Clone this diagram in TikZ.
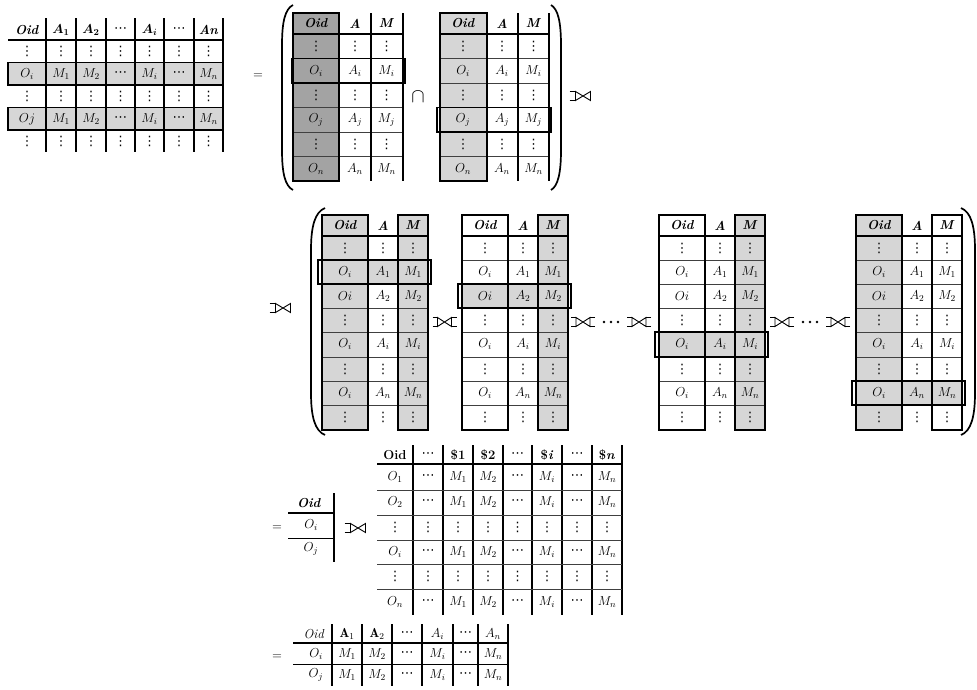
\RequirePackage{fix-cm}
\documentclass[tikz,border=0pt]{standalone}
\usepackage{amsmath}
\usepackage{fontspec}
\newfontfamily\dvs{DejaVu Sans}
\newcommand\hb[1]{\textbf{\textit{#1}}}
\newcommand\vdt{{\dvs ⋮}}
\newcommand\cdt{{\dvs ⋯}}
\newcommand\cel[4]{\node[cellbox] (#1) at (#2,#3) {#4};}
% T1 rows: #1 row, #2 y, #3 first cell
\newcommand\onerow[3]{\cel{T1-#1-1}{27}{#2}{#3}\cel{T1-#1-2}{61}{#2}{$M_1$}\cel{T1-#1-3}{91}{#2}{$M_2$}\cel{T1-#1-4}{120.5}{#2}{\cdt}\cel{T1-#1-5}{149.5}{#2}{$M_i$}\cel{T1-#1-6}{179}{#2}{\cdt}\cel{T1-#1-7}{208.5}{#2}{$M_n$}}
\newcommand\onedots[2]{\cel{T1-#1-1}{27}{#2}{\vdt}\cel{T1-#1-2}{61}{#2}{\vdt}\cel{T1-#1-3}{91}{#2}{\vdt}\cel{T1-#1-4}{120.5}{#2}{\vdt}\cel{T1-#1-5}{149.5}{#2}{\vdt}\cel{T1-#1-6}{179}{#2}{\vdt}\cel{T1-#1-7}{208.5}{#2}{\vdt}}
% tables A/B
\newcommand\abrow[4]{\cel{T#1-#2-1}{23}{#3}{$O_#4$}\cel{T#1-#2-2}{62}{#3}{$A_#4$}\cel{T#1-#2-3}{93.5}{#3}{$M_#4$}}
\newcommand\abdots[3]{\cel{T#1-#2-1}{23}{#3}{\vdt}\cel{T#1-#2-2}{62}{#3}{\vdt}\cel{T#1-#2-3}{93.5}{#3}{\vdt}}
\newcommand\abtab[1]{%
  \cel{T#1-0-1}{23}{23.5}{\hb{Oid}}\cel{T#1-0-2}{62}{23.5}{\hb{A}}\cel{T#1-0-3}{93.5}{23.5}{\hb{M}}%
  \abdots{#1}{1}{46}\abrow{#1}{2}{71}{i}\abdots{#1}{3}{95}\abrow{#1}{4}{120}{j}%
  \abdots{#1}{5}{144}\abrow{#1}{6}{169}{n}}
% C tables
\newcommand\crow[5]{\cel{C#1-#2-1}{23}{#3}{#4}\cel{C#1-#2-2}{61}{#3}{$A_#5$}\cel{C#1-#2-3}{91}{#3}{$M_#5$}}
\newcommand\cdotsrow[3]{\cel{C#1-#2-1}{23}{#3}{\vdt}\cel{C#1-#2-2}{61}{#3}{\vdt}\cel{C#1-#2-3}{91}{#3}{\vdt}}
\newcommand\ctab[1]{%
  \cel{C#1-0-1}{23}{225.5}{\hb{Oid}}\cel{C#1-0-2}{61}{225.5}{\hb{A}}\cel{C#1-0-3}{91}{225.5}{\hb{M}}%
  \cdotsrow{#1}{1}{248}\crow{#1}{2}{272}{$O_i$}{1}\crow{#1}{3}{296}{$Oi$}{2}%
  \cdotsrow{#1}{4}{320}\crow{#1}{5}{344.5}{$O_i$}{i}\cdotsrow{#1}{6}{369}%
  \crow{#1}{7}{393}{$O_i$}{n}\cdotsrow{#1}{8}{417.5}}
% T5 rows
\newcommand\fiverow[3]{\cel{T5-#1-1}{395}{#2}{#3}\cel{T5-#1-2}{428}{#2}{\cdt}\cel{T5-#1-3}{458}{#2}{$M_1$}\cel{T5-#1-4}{488}{#2}{$M_2$}\cel{T5-#1-5}{517.5}{#2}{\cdt}\cel{T5-#1-6}{547}{#2}{$M_i$}\cel{T5-#1-7}{577}{#2}{\cdt}\cel{T5-#1-8}{607}{#2}{$M_n$}}
\newcommand\fivedots[2]{\cel{T5-#1-1}{395}{#2}{\vdt}\cel{T5-#1-2}{428}{#2}{\vdt}\cel{T5-#1-3}{458}{#2}{\vdt}\cel{T5-#1-4}{488}{#2}{\vdt}\cel{T5-#1-5}{517.5}{#2}{\vdt}\cel{T5-#1-6}{547}{#2}{\vdt}\cel{T5-#1-7}{577}{#2}{\vdt}\cel{T5-#1-8}{607}{#2}{\vdt}}
% final rows
\newcommand\finrow[3]{\cel{F-#1-1}{316}{#2}{#3}\cel{F-#1-2}{347}{#2}{$M_1$}\cel{F-#1-3}{377}{#2}{$M_2$}\cel{F-#1-4}{407}{#2}{\cdt}\cel{F-#1-5}{437.5}{#2}{$M_i$}\cel{F-#1-6}{465.5}{#2}{\cdt}\cel{F-#1-7}{493}{#2}{$M_n$}}
\tikzset{
  cellbox/.style={inner sep=0pt, font=\fontsize{13}{15}\selectfont},
  vl/.style={line width=1.1pt},
  hl/.style={line width=1.8pt},
  rl/.style={line width=0.5pt, black!75},
  rowbox/.style={line width=1.5pt},
  lsh/.style={fill=black!16},
  dsh/.style={fill=black!36},
  jn/.style={line width=0.9pt},
  parenline/.style={line width=1.7pt},
  pics/lojoin/.style={code={
    \draw[jn] (-7.5,-4.5) -- (7.5,4.5) -- (7.5,-4.5) -- (-7.5,4.5) -- cycle;
    \draw[jn] (-13.5,-4.5) -- (-7.5,-4.5) (-13.5,4.5) -- (-7.5,4.5);}},
  pics/fojoin/.style={code={
    \draw[jn] (-7,-4.5) -- (7,4.5) -- (7,-4.5) -- (-7,4.5) -- cycle;
    \draw[jn] (-12,-4.5) -- (-7,-4.5) (-12,4.5) -- (-7,4.5)
              (12,-4.5) -- (7,-4.5) (12,4.5) -- (7,4.5);}},
}
\begin{document}
\begin{tikzpicture}[x=1pt,y=-1pt]
\fill[white] (0,0) rectangle (977,689);
\useasboundingbox (0,0) rectangle (977,689);

% ---------------- T1 (top left) ----------------
\fill[lsh] (8,62.5) rectangle (223,85);
\fill[lsh] (8,107.5) rectangle (223,130);
\draw[vl] (46,18) -- (46,152) (76,18) -- (76,152) (106,18) -- (106,152) (135,18) -- (135,152) (164,18) -- (164,152) (194,18) -- (194,152) (223,18) -- (223,152);
\draw[hl] (8,40) -- (223,40);
\draw[rowbox] (8,62.5) rectangle (223,85);
\draw[rowbox] (8,107.5) rectangle (223,130);
\cel{T1-0-1}{27}{30}{\hb{Oid}}
\cel{T1-0-2}{61}{30}{$\boldsymbol{A_1}$}
\cel{T1-0-3}{91}{30}{$\boldsymbol{A_2}$}
\cel{T1-0-4}{120.5}{30}{\cdt}
\cel{T1-0-5}{149.5}{30}{$\boldsymbol{A_i}$}
\cel{T1-0-6}{179}{30}{\cdt}
\cel{T1-0-7}{208.5}{30}{\hb{An}}
\onedots{1}{51.5}
\onerow{2}{74}{$O_i$}
\onedots{3}{96.5}
\onerow{4}{119}{$Oj$}
\onedots{5}{141}
\node[cellbox] (eq1) at (258,76) {$=$};

% ---------------- group 1 ----------------
\draw[parenline] (293,5) .. controls (285,9) and (282,22) .. (282,45) -- (282,150) .. controls (282,173) and (285,186) .. (293,190);
\draw[parenline] (551,5) .. controls (558,9) and (561,22) .. (561,45) -- (561,150) .. controls (561,173) and (558,186) .. (551,190);

% table A
\fill[dsh] (293,13) rectangle (339,181);
\draw[rl] (293,58.5) -- (403,58.5) (293,83) -- (403,83) (293,107.5) -- (403,107.5) (293,132) -- (403,132) (293,156.5) -- (403,156.5);
\draw[vl] (371,13) -- (371,181) (403,13) -- (403,181);
\draw[hl] (293,34) -- (403,34);
\draw[rowbox] (293,13) rectangle (339,181);
\draw[rowbox] (292,58.5) rectangle (405,83);
% table B
\fill[lsh] (440,13) rectangle (487,181);
\draw[rl] (440,58.5) -- (549,58.5) (440,83) -- (549,83) (440,107.5) -- (549,107.5) (440,132) -- (549,132) (440,156.5) -- (549,156.5);
\draw[vl] (518,13) -- (518,181) (549,13) -- (549,181);
\draw[hl] (440,34) -- (549,34);
\draw[rowbox] (440,13) rectangle (487,181);
\draw[rowbox] (437,107.5) rectangle (551,132);

\begin{scope}[shift={(293,0)}] \abtab{A} \end{scope}
\begin{scope}[shift={(440,0)}] \abtab{B} \end{scope}

\node[cellbox, font=\fontsize{20}{22}\selectfont] (cap) at (418,97) {$\cap$};
\pic (j1) at (583,96) {lojoin};

% ---------------- middle row ----------------
\pic (j2) at (283,308) {lojoin};
\draw[parenline] (325,208) .. controls (315,212) and (311,226) .. (311,250) -- (311,393) .. controls (311,417) and (315,431) .. (325,435);
\draw[parenline] (961,208) .. controls (971,212) and (975,226) .. (975,250) -- (975,393) .. controls (975,417) and (971,431) .. (961,435);

% C1
\begin{scope}[shift={(322,0)}]
  \fill[lsh] (0,215) rectangle (46,430) (76,215) rectangle (106,430) (0,260) rectangle (106,284);
  \draw[rl] (0,260) -- (106,260) (0,284) -- (106,284) (0,308) -- (106,308) (0,332) -- (106,332) (0,357) -- (106,357) (0,381) -- (106,381) (0,405) -- (106,405);
  \draw[hl] (0,236) -- (106,236);
  \draw[rowbox] (0,215) rectangle (46,430) (76,215) rectangle (106,430);
  \draw[rowbox] (-4,260) rectangle (109,284);
  \ctab{1}
\end{scope}
% C2
\begin{scope}[shift={(462,0)}]
  \fill[lsh] (76,215) rectangle (106,430) (0,284) rectangle (106,308);
  \draw[rl] (0,260) -- (106,260) (0,284) -- (106,284) (0,308) -- (106,308) (0,332) -- (106,332) (0,357) -- (106,357) (0,381) -- (106,381) (0,405) -- (106,405);
  \draw[hl] (0,236) -- (106,236);
  \draw[rowbox] (0,215) rectangle (46,430) (76,215) rectangle (106,430);
  \draw[rowbox] (-4,284) rectangle (109,308);
  \ctab{2}
\end{scope}
% C3
\begin{scope}[shift={(659,0)}]
  \fill[lsh] (76,215) rectangle (106,430) (0,332) rectangle (106,357);
  \draw[rl] (0,260) -- (106,260) (0,284) -- (106,284) (0,308) -- (106,308) (0,332) -- (106,332) (0,357) -- (106,357) (0,381) -- (106,381) (0,405) -- (106,405);
  \draw[hl] (0,236) -- (106,236);
  \draw[rowbox] (0,215) rectangle (46,430) (76,215) rectangle (106,430);
  \draw[rowbox] (-4,332) rectangle (109,357);
  \ctab{3}
\end{scope}
% C4
\begin{scope}[shift={(856,0)}]
  \fill[lsh] (0,215) rectangle (46,430) (0,381) rectangle (106,405);
  \draw[rl] (0,260) -- (106,260) (0,284) -- (106,284) (0,308) -- (106,308) (0,332) -- (106,332) (0,357) -- (106,357) (0,381) -- (106,381) (0,405) -- (106,405);
  \draw[hl] (0,236) -- (106,236);
  \draw[rowbox] (0,215) rectangle (46,430) (76,215) rectangle (106,430);
  \draw[rowbox] (-4,381) rectangle (109,405);
  \ctab{4}
\end{scope}

\pic (j3) at (444.5,322) {fojoin};
\pic (j4) at (583,322) {fojoin};
\fill (604,322) circle (1.3) (611,322) circle (1.3) (618,322) circle (1.3);
\pic (j5) at (639,322) {fojoin};
\pic (j6) at (782,322) {fojoin};
\fill (803,322) circle (1.3) (810,322) circle (1.3) (817,322) circle (1.3);
\pic (j7) at (838,322) {fojoin};

% ---------------- third row ----------------
\node[cellbox] (eq2) at (277,528) {$=$};
\draw[hl] (288,513) -- (334,513);
\draw[line width=0.8pt] (288,538) -- (334,538);
\draw[vl] (334,493) -- (334,562);
\node[cellbox] (S-0) at (309,503) {\hb{Oid}};
\node[cellbox] (S-1) at (311,525) {$O_i$};
\node[cellbox] (S-2) at (311,549) {$O_j$};
\pic (j8) at (358,528) {lojoin};

\draw[vl] (413,445) -- (413,615) (443,445) -- (443,615) (473,445) -- (473,615) (503,445) -- (503,615) (532,445) -- (532,615) (562,445) -- (562,615) (592,445) -- (592,615) (622,445) -- (622,615);
\draw[hl] (377,464) -- (622,464);
\draw[rl] (377,490) -- (622,490) (377,515) -- (622,515) (377,540) -- (622,540) (377,564) -- (622,564) (377,589) -- (622,589);
\cel{T5-0-1}{395}{455}{\textbf{Oid}}
\cel{T5-0-2}{428}{455}{\cdt}
\cel{T5-0-3}{458}{455}{\textbf{\$1}}
\cel{T5-0-4}{488}{455}{\textbf{\$2}}
\cel{T5-0-5}{517.5}{455}{\cdt}
\cel{T5-0-6}{547}{455}{\textbf{\$\textit{i}}}
\cel{T5-0-7}{577}{455}{\cdt}
\cel{T5-0-8}{607}{455}{\textbf{\$\textit{n}}}
\fiverow{1}{477}{$O_1$}
\fiverow{2}{502.5}{$O_2$}
\fivedots{3}{527.5}
\fiverow{4}{552}{$O_i$}
\fivedots{5}{576.5}
\fiverow{6}{602}{$O_n$}

% ---------------- final row ----------------
\node[cellbox] (eq3) at (277,657) {$=$};
\draw[vl] (332,624) -- (332,686) (362,624) -- (362,686) (392,624) -- (392,686) (422,624) -- (422,686) (453,624) -- (453,686) (478,624) -- (478,686) (508,624) -- (508,686);
\draw[hl] (293,643) -- (508,643);
\draw[line width=0.8pt] (293,664) -- (508,664);
\cel{F-0-1}{314}{634}{\textit{Oid}}
\cel{F-0-2}{347}{634}{$\mathbf{A}_1$}
\cel{F-0-3}{377}{634}{$\mathbf{A}_2$}
\cel{F-0-4}{407}{634}{\cdt}
\cel{F-0-5}{437.5}{634}{$A_i$}
\cel{F-0-6}{465.5}{634}{\cdt}
\cel{F-0-7}{493}{634}{$A_n$}
\finrow{1}{654}{$O_i$}
\finrow{2}{675}{$O_j$}
\end{tikzpicture}
\end{document}
